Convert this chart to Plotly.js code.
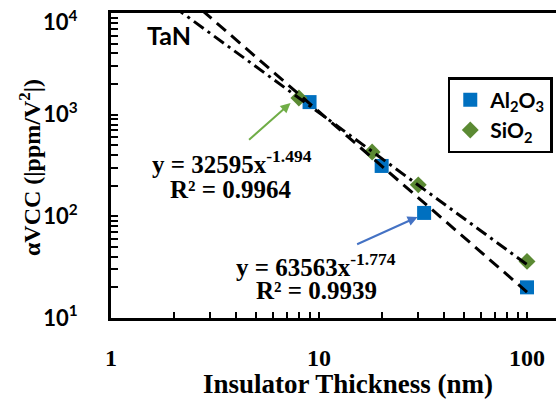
<!DOCTYPE html>
<html>
<head>
<meta charset="utf-8">
<script src="https://cdn.plot.ly/plotly-3.0.1.min.js"></script>
<style>
html,body{margin:0;padding:0;overflow:hidden;background:#fff;}
#chart{width:584px;height:400px;}
</style>
</head>
<body>
<div id="chart"></div>
<script>
// Data
const al2o3Thickness = [9, 20, 32, 100];
const al2o3Vcc = [1330, 313, 108, 20];
const sio2Thickness = [8, 18, 30, 100];
const sio2Vcc = [1460, 430, 204, 36];

// Power-law fits shown on the chart: y = a * x^b
const al2o3Fit = [63563, -1.774];
const sio2Fit = [32595, -1.494];
const fitRange = [2, 100];

// Tick positions (labelled majors, unlabelled minors)
const xTickVals = [1, 2, 3, 4, 5, 6, 7, 8, 9, 10, 20, 30, 40, 50, 60, 70, 80, 90, 100];
const xTickText = ['1', '', '', '', '', '', '', '', '', '10', '', '', '', '', '', '', '', '', '100'];
const yTickVals = [10, 20, 30, 40, 50, 60, 70, 80, 90, 100, 200, 300, 400, 500, 600, 700, 800, 900,
                   1000, 2000, 3000, 4000, 5000, 6000, 7000, 8000, 9000, 10000];
const yTickText = ['10<sup>1</sup>', '', '', '', '', '', '', '', '', '10<sup>2</sup>', '', '', '', '', '', '', '', '',
                   '10<sup>3</sup>', '', '', '', '', '', '', '', '', ''];
const yTopLabel = '10<sup>4</sup>';
const xTitle = 'Insulator Thickness (nm)';
const yTitle = 'αVCC (|ppm/V<sup>2</sup>|)';

const fitY = (f) => fitRange.map(x => f[0] * Math.pow(x, f[1]));

const serif = 'Liberation Serif, Times New Roman, serif';
const sans = 'Lato, Noto Sans, sans-serif';

const traces = [
  {x: al2o3Thickness, y: al2o3Vcc, type: 'scatter', mode: 'markers', name: 'Al<sub>2</sub>O<sub>3</sub>',
   marker: {symbol: 'square', size: 14, color: '#0070C0'}},
  {x: sio2Thickness, y: sio2Vcc, type: 'scatter', mode: 'markers', name: 'SiO<sub>2</sub>',
   marker: {symbol: 'diamond', size: 13, color: '#5B8A33'}},
  {x: fitRange, y: fitY(al2o3Fit), type: 'scatter', mode: 'lines', showlegend: false, hoverinfo: 'skip',
   line: {color: '#000', width: 3, dash: '12px,7px'}},
  {x: fitRange, y: fitY(sio2Fit), type: 'scatter', mode: 'lines', showlegend: false, hoverinfo: 'skip',
   line: {color: '#000', width: 3, dash: '12px,5px,3px,5px'}}
];

const layout = {
  width: 584, height: 400,
  margin: {l: 111, r: 0, t: 13, b: 82},
  legend: {x: 0.712, y: 0.79, xanchor: 'left', yanchor: 'top',
    bordercolor: '#000', borderwidth: 2.5, bgcolor: '#fff',
    font: {family: sans, size: 21, color: '#000', weight: 'bold'}, tracegroupgap: 0},
  xaxis: {type: 'log', range: [-0.0005, 2.274], showgrid: false, zeroline: false,
    showline: true, linecolor: '#000', linewidth: 3, mirror: true,
    tickmode: 'array', tickvals: xTickVals, ticktext: xTickText,
    ticks: 'inside', ticklen: 6, tickwidth: 2, tickcolor: '#000',
    tickfont: {family: serif, size: 24, color: '#000', weight: 'bold'},
    ticklabelstandoff: 16},
  yaxis: {type: 'log', range: [0.9995, 4.0005], showgrid: false, zeroline: false,
    showline: true, linecolor: '#000', linewidth: 3, mirror: true,
    tickmode: 'array', tickvals: yTickVals, ticktext: yTickText,
    ticks: 'inside', ticklen: 7, tickwidth: 2, tickcolor: '#000',
    tickfont: {family: sans, size: 22, color: '#000', weight: 'bold'},
    ticklabelstandoff: 26},
  annotations: [
    {x: -0.171, y: 0.492, xref: 'paper', yref: 'paper', xanchor: 'center', yanchor: 'middle', textangle: -90,
     text: yTitle, showarrow: false, font: {family: serif, size: 24, color: '#000', weight: 'bold'}},
    {x: -0.0655, y: 0.974, xref: 'paper', yref: 'paper', xanchor: 'right', yanchor: 'middle', text: yTopLabel, showarrow: false,
     font: {family: sans, size: 22, color: '#000', weight: 'bold'}},
    {x: 0.5, y: -0.216, xref: 'paper', yref: 'paper', xanchor: 'center', yanchor: 'middle', text: xTitle, showarrow: false,
     font: {family: serif, size: 27, color: '#000', weight: 'bold'}},
    {x: 0.279, y: 3.784, xref: 'x', yref: 'y', text: 'TaN', showarrow: false,
     font: {family: sans, size: 25, color: '#000', weight: 'bold'}},
    {x: 0.582, y: 2.535, xref: 'x', yref: 'y', text: 'y = 32595x<sup>-1.494</sup>', showarrow: false,
     font: {family: serif, size: 25, color: '#000', weight: 'bold'}},
    {x: 0.577, y: 2.26, xref: 'x', yref: 'y', text: 'R² = 0.9964', showarrow: false,
     font: {family: serif, size: 25, color: '#000', weight: 'bold'}},
    {x: 0.986, y: 1.522, xref: 'x', yref: 'y', text: 'y = 63563x<sup>-1.774</sup>', showarrow: false,
     font: {family: serif, size: 25, color: '#000', weight: 'bold'}},
    {x: 0.986, y: 1.267, xref: 'x', yref: 'y', text: 'R² = 0.9939', showarrow: false,
     font: {family: serif, size: 25, color: '#000', weight: 'bold'}},
    {x: 0.863, y: 3.115, xref: 'x', yref: 'y', ax: -43, ay: 38, text: '', showarrow: true,
     arrowhead: 2, arrowsize: 1, arrowwidth: 2, arrowcolor: '#70AD47'},
    {x: 1.474, y: 1.994, xref: 'x', yref: 'y', ax: -62, ay: 28, text: '', showarrow: true,
     arrowhead: 2, arrowsize: 1, arrowwidth: 2, arrowcolor: '#4472C4'}
  ]
};

Plotly.newPlot('chart', traces, layout, {displayModeBar: false, staticPlot: true});
</script>
</body>
</html>
